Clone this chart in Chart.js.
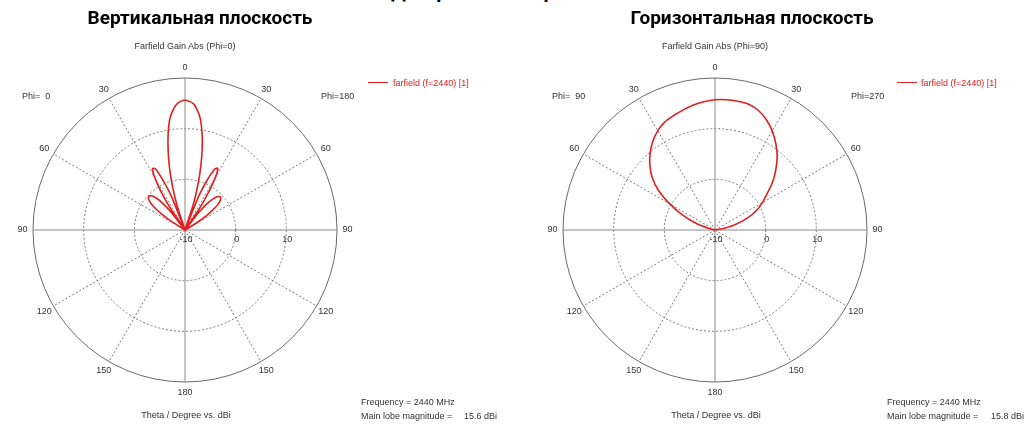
<!DOCTYPE html>
<html>
<head>
<meta charset="utf-8">
<script src="https://cdn.jsdelivr.net/npm/chart.js@4/dist/chart.umd.min.js"></script>
<style>
html,body{margin:0;padding:0;background:#fff;}
#wrap{position:relative;width:1035px;height:426px;overflow:hidden;background:#fff;}
canvas{position:absolute;top:0;}
.t{position:absolute;white-space:nowrap;font-family:"Liberation Sans",Arial,sans-serif;font-size:9px;color:#333;line-height:1;}
.c{transform:translate(-50%,-50%);}
.l{transform:translateY(-50%);}
.h{position:absolute;white-space:nowrap;font-family:Roboto,"Noto Sans",sans-serif;font-weight:bold;font-size:19px;color:#000;line-height:1;transform:translate(-50%,-50%);}
.red{color:#e02020;}
.lg{position:absolute;height:0;border-top:1.5px solid #e02020;width:20px;}
</style>
</head>
<body>
<div id="wrap">
  <div class="h" style="left:391px;top:-19px;transform:none;font-size:20px;">Диаграммы направленности</div>

  <canvas id="vert" width="530" height="426" style="left:0px"></canvas>
  <canvas id="hor" width="505" height="426" style="left:530px"></canvas>

  <div class="h" style="left:200px;top:17px;">Вертикальная плоскость</div>
  <div class="h" style="left:752px;top:17px;">Горизонтальная плоскость</div>

  <div class="t c" style="left:185px;top:46px;">Farfield Gain Abs (Phi=0)</div>
  <div class="t l" style="left:22px;top:96px;">Phi=&nbsp; 0</div>
  <div class="t l" style="left:321px;top:96px;">Phi=180</div>
  <div class="lg" style="left:368px;top:82px;"></div>
  <div class="t l red" style="left:393px;top:83px;">farfield (f=2440) [1]</div>
  <div class="t c" style="left:186px;top:415px;">Theta / Degree vs. dBi</div>
  <div class="t l" style="left:361px;top:402px;">Frequency = 2440 MHz</div>
  <div class="t l" style="left:361px;top:416px;">Main lobe magnitude =</div>
  <div class="t l" style="left:464px;top:416px;">15.6 dBi</div>

  <div class="t c" style="left:715px;top:46px;">Farfield Gain Abs (Phi=90)</div>
  <div class="t l" style="left:552px;top:96px;">Phi=&nbsp; 90</div>
  <div class="t l" style="left:851px;top:96px;">Phi=270</div>
  <div class="lg" style="left:897px;top:82px;"></div>
  <div class="t l red" style="left:921px;top:83px;">farfield (f=2440) [1]</div>
  <div class="t c" style="left:716px;top:415px;">Theta / Degree vs. dBi</div>
  <div class="t l" style="left:887px;top:402px;">Frequency = 2440 MHz</div>
  <div class="t l" style="left:887px;top:416px;">Main lobe magnitude =</div>
  <div class="t l" style="left:991px;top:416px;">15.8 dBi</div>
</div>
<script>
// ---- tick labels ----
const angleTickLabels = ['0','30','60','90','120','150','180','150','120','90','60','30'];
const radialTickValues = [-10, 0, 10];
const radialTickLabels = ['-10', '0', '10'];

// ---- Vertical plane (Phi=0 / Phi=180), theta 0..180 step 2 deg, gain dBi ----
const vertStep = 2;
const vertPhi180 = [ // right half
  15.6, 15.4, 14.9, 13.7, 12.0, 9.4, 6.3, 2.8, -0.8, -4.8,
  -10, -3.0, 0.8, 3.4, 3.8, 2.0, -1.2, -5.0, -10, -5.8,
  -3.2, -1.8, -0.9, -0.5, -0.5, -0.9, -1.7, -3.0, -4.8, -7.2,
  -10, -10, -10, -10, -10, -10, -10, -10, -10, -10,
  -10, -10, -10, -10, -10, -10, -10, -10, -10, -10,
  -10, -10, -10, -10, -10, -10, -10, -10, -10, -10,
  -10, -10, -10, -10, -10, -10, -10, -10, -10, -10,
  -10, -10, -10, -10, -10, -10, -10, -10, -10, -10,
  -10, -10, -10, -10, -10, -10, -10, -10, -10, -10,
  -10
];
const vertPhi0 = [ // left half
  15.6, 15.4, 14.8, 13.6, 11.9, 9.2, 6.0, 2.6, -1.0, -5.0,
  -10, -2.8, 1.0, 3.5, 3.7, 1.9, -1.0, -5.0, -10, -5.5,
  -3.0, -1.5, -0.7, -0.3, -0.3, -0.7, -1.5, -2.8, -4.6, -7.0,
  -10, -10, -10, -10, -10, -10, -10, -10, -10, -10,
  -10, -10, -10, -10, -10, -10, -10, -10, -10, -10,
  -10, -10, -10, -10, -10, -10, -10, -10, -10, -10,
  -10, -10, -10, -10, -10, -10, -10, -10, -10, -10,
  -10, -10, -10, -10, -10, -10, -10, -10, -10, -10,
  -10, -10, -10, -10, -10, -10, -10, -10, -10, -10,
  -10
];

// ---- Horizontal plane (Phi=90 / Phi=270), theta 0..180 step 5 deg ----
const horStep = 5;
const horPhi270 = [ // right half
  15.7, 15.8, 15.8, 15.7, 15.1, 14.0, 12.6, 10.9, 9.1, 7.0,
  4.9, 2.6, 0.8, -1.0, -3.3, -5.8, -8.3, -10, -10, -10,
  -10, -10, -10, -10, -10, -10, -10, -10, -10, -10,
  -10, -10, -10, -10, -10, -10, -10
];
const horPhi90 = [ // left half
  15.7, 15.4, 15.0, 14.5, 14.0, 13.5, 12.6, 11.4, 9.9, 8.2,
  6.2, 3.6, 0.3, -2.8, -5.8, -8.6, -10, -10, -10, -10,
  -10, -10, -10, -10, -10, -10, -10, -10, -10, -10,
  -10, -10, -10, -10, -10, -10, -10
];

function buildRing(rightHalf, leftHalf, step) {
  const n = Math.round(360 / step), half = n / 2;
  const labels = [], data = [];
  for (let i = 0; i < n; i++) {
    const a = i * step;
    labels.push(String(a <= 180 ? a : 360 - a));
    data.push(i <= half ? rightHalf[i] : leftHalf[n - i]);
  }
  return {labels, data};
}

const RED = '#e02020';
const AXIS = '#8a8a8a';
const OUTER = '#6a6a6a';
const DOT = '#7a7a7a';

const polarDecor = {
  id: 'polarDecor',
  afterDraw(chart) {
    const s = chart.scales.r;
    const ctx = chart.ctx;
    const n = chart.data.labels.length;
    const R = s.drawingArea;
    ctx.save();
    ctx.font = '9px "Liberation Sans", Arial, sans-serif';
    ctx.fillStyle = '#333';
    ctx.textAlign = 'center';
    ctx.textBaseline = 'middle';
    angleTickLabels.forEach((lab, k) => {
      const p = s.getPointPosition(k * n / angleTickLabels.length, R + 10.5);
      ctx.fillText(lab, p.x, p.y);
    });
    radialTickValues.forEach((v, k) => {
      const p = s.getPointPosition(n / 4, s.getDistanceFromCenterForValue(v));
      ctx.fillText(radialTickLabels[k], p.x + 1, p.y + 10);
    });
    ctx.restore();
  }
};

function makeChart(id, ring, step, canvasW, tension) {
  return new Chart(document.getElementById(id), {
    type: 'radar',
    data: {
      labels: ring.labels,
      datasets: [{
        data: ring.data,
        borderColor: RED,
        borderWidth: 1.6,
        pointRadius: 0,
        pointHoverRadius: 0,
        fill: false,
        tension: tension
      }]
    },
    options: {
      responsive: false,
      animation: false,
      events: [],
      layout: {padding: {left: 33, top: 78, right: canvasW - 338, bottom: 43}},
      plugins: {legend: {display: false}, tooltip: {enabled: false}, title: {display: false}},
      scales: {
        r: {
          min: -10,
          max: 20,
          startAngle: 0,
          ticks: {display: false, stepSize: 10},
          pointLabels: {display: false},
          grid: {
            circular: true,
            lineWidth: 1,
            color: c => (c.tick && c.tick.value === 20) ? OUTER : DOT
          },
          border: {
            dash: c => (c.tick && c.tick.value === 20) ? [] : [2, 2]
          },
          angleLines: {
            color: c => {
              const a = c.index * step;
              if (a % 90 === 0) return AXIS;
              if (a % 30 === 0) return DOT;
              return 'rgba(0,0,0,0)';
            },
            lineWidth: c => ((c.index * step) % 30 === 0 ? 1 : 0),
            borderDash: c => ((c.index * step) % 90 === 0 ? [] : [2, 2])
          }
        }
      }
    },
    plugins: [polarDecor]
  });
}

makeChart('vert', buildRing(vertPhi180, vertPhi0, vertStep), vertStep, 530, 0.15);
makeChart('hor', buildRing(horPhi270, horPhi90, horStep), horStep, 505, 0.3);
</script>
</body>
</html>
